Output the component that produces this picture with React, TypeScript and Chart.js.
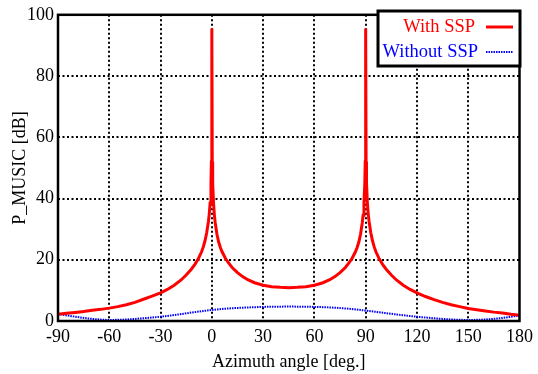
import React, { useEffect, useRef } from "react";
import { Chart, registerables } from "chart.js";

Chart.register(...registerables);

const redAngles = [
  -90, -85, -80, -75, -70, -65, -60, -55, -50, -45, -40, -35, -30, -26, -22, -18, -15, -12, -10, -8, -6, -5, -4, -3, -2, -1.5, -1, -0.5, -0.25, 0,
  0.25, 0.5, 1, 1.5, 2, 3, 4, 5, 6, 8, 10, 12, 15, 18, 21, 25, 30, 35, 40, 45,
  50, 55, 60, 65, 69, 72, 75, 78, 80, 82, 84, 85, 86, 87, 88, 88.5, 89, 89.5, 89.75, 90,
  90.25, 90.5, 91, 91.5, 92, 93, 94, 95, 96, 98, 100, 102, 105, 108, 112, 116, 120, 125, 130, 135, 140, 145, 150, 155, 160, 165, 170, 175, 180,
];
const redValues = [
  2.2, 2.5, 2.8, 3.1, 3.5, 3.8, 4.2, 4.7, 5.3, 6.1, 7.1, 8.1, 9.2, 10.3, 11.7, 13.4, 15.0, 16.9, 18.4, 20.2, 22.6, 24.2, 26.2, 28.8, 32.5, 35, 38.5, 45, 52, 95.5,
  52, 45, 38.5, 34.5, 32, 28.3, 25.8, 24, 22.6, 20.4, 18.8, 17.4, 15.8, 14.5, 13.5, 12.5, 11.7, 11.2, 11.0, 10.9,
  11.0, 11.2, 11.7, 12.5, 13.5, 14.5, 15.8, 17.4, 18.8, 20.4, 22.6, 24, 25.8, 28.3, 32, 34.5, 38.5, 45, 52, 95.5,
  52, 45, 38.5, 35, 32.5, 28.8, 26.2, 24.2, 22.6, 20.2, 18.4, 16.9, 15.0, 13.4, 11.7, 10.3, 9.2, 8.0, 7.0, 6.1, 5.3, 4.7, 4.1, 3.7, 3.3, 2.9, 2.6, 2.2, 1.9,
];

const blueAngles = [-90, -80, -70, -60, -50, -40, -30, -20, -10, 0, 10, 20, 30, 45, 60, 70, 80, 90, 100, 110, 120, 130, 140, 150, 160, 170, 180];
const blueValues = [2.3, 1.4, 0.7, 0.35, 0.5, 0.9, 1.4, 2.1, 2.9, 3.6, 4.1, 4.4, 4.6, 4.7, 4.6, 4.4, 4.0, 3.4, 2.7, 2.0, 1.4, 0.9, 0.5, 0.35, 0.5, 1.0, 1.8];

const xTicks = [-90, -60, -30, 0, 30, 60, 90, 120, 150, 180];
const yTicks = [0, 20, 40, 60, 80, 100];
const seriesNames = ["With SSP", "Without SSP"];
const FONT = "'Liberation Serif', 'Times New Roman', serif";

export default function App() {
  const ref = useRef<HTMLCanvasElement | null>(null);
  useEffect(() => {
    const canvas = ref.current;
    if (!canvas) return;
    const boxPlugin = {
      id: "boxAndLegend",
      afterDraw(chart: any) {
        const { ctx, chartArea: a } = chart;
        ctx.save();
        ctx.strokeStyle = "#000";
        ctx.lineWidth = 2.5;
        ctx.setLineDash([]);
        ctx.strokeRect(a.left, a.top, a.right - a.left, a.bottom - a.top);
        // legend
        const lx = 378, ly = 11, lw = 142, lh = 55;
        ctx.fillStyle = "#fff";
        ctx.fillRect(lx, ly, lw, lh);
        ctx.lineWidth = 3;
        ctx.strokeRect(lx, ly, lw, lh);
        ctx.font = `18.5px ${FONT}`;
        ctx.textAlign = "right";
        ctx.textBaseline = "middle";
        ctx.fillStyle = "#ff0000";
        ctx.fillText(seriesNames[0], 475, 27);
        ctx.fillStyle = "#0000ff";
        ctx.fillText(seriesNames[1], 478, 52);
        ctx.strokeStyle = "#ff0000";
        ctx.lineWidth = 3;
        ctx.beginPath();
        ctx.moveTo(486, 27);
        ctx.lineTo(513, 27);
        ctx.stroke();
        ctx.strokeStyle = "#0000ff";
        ctx.lineWidth = 2;
        ctx.setLineDash([1.5, 1]);
        ctx.beginPath();
        ctx.moveTo(486, 52);
        ctx.lineTo(513, 52);
        ctx.stroke();
        ctx.restore();
      },
    };
    const chart = new Chart(canvas, {
      type: "line",
      data: {
        datasets: [
          {
            label: seriesNames[0],
            data: redAngles.map((x, i) => ({ x, y: redValues[i] })),
            borderColor: "#ff0000",
            borderWidth: 3,
            pointRadius: 0,
            tension: 0,
            fill: false,
          },
          {
            label: seriesNames[1],
            data: blueAngles.map((x, i) => ({ x, y: blueValues[i] })),
            borderColor: "#0000ff",
            borderWidth: 2,
            borderDash: [1.5, 1],
            pointRadius: 0,
            cubicInterpolationMode: "monotone",
            fill: false,
          },
        ],
      },
      options: {
        responsive: false,
        animation: false,
        events: [],
        layout: { padding: { top: 11, right: 17, left: 0, bottom: 0 } },
        plugins: { legend: { display: false }, tooltip: { enabled: false } },
        scales: {
          x: {
            type: "linear",
            min: -90,
            max: 180,
            afterBuildTicks: (s: any) => {
              s.ticks = xTicks.map((v) => ({ value: v }));
            },
            afterFit: (s: any) => {
              s.height = 53;
            },
            border: { display: false, dash: [2, 2.5] },
            grid: {
              color: (c: any) => (c.tick && (c.tick.value === -90 || c.tick.value === 180) ? "rgba(0,0,0,0)" : "#000"),
              lineWidth: 2,
              drawTicks: false,
            },
            ticks: {
              color: "#000",
              font: { family: FONT, size: 18 },
              padding: 5,
              maxRotation: 0,
              autoSkip: false,
            },
            title: {
              display: true,
              text: "Azimuth angle [deg.]",
              color: "#000",
              font: { family: FONT, size: 18 },
              padding: { top: 0, bottom: 1 },
            },
          },
          y: {
            type: "linear",
            min: 0,
            max: 100,
            afterBuildTicks: (s: any) => {
              s.ticks = yTicks.map((v) => ({ value: v }));
            },
            afterFit: (s: any) => {
              s.width = 58;
            },
            border: { display: false, dash: [2, 2.5] },
            grid: {
              color: (c: any) => (c.tick && (c.tick.value === 0 || c.tick.value === 100) ? "rgba(0,0,0,0)" : "#000"),
              lineWidth: 2,
              drawTicks: false,
            },
            ticks: {
              color: "#000",
              font: { family: FONT, size: 18 },
              padding: 4,
            },
            title: {
              display: true,
              text: "P_MUSIC [dB]",
              color: "#000",
              font: { family: FONT, size: 18 },
              padding: { top: 9, bottom: 0 },
            },
          },
        },
      },
      plugins: [boxPlugin],
    } as any);
    return () => chart.destroy();
  }, []);
  return (
    <div style={{ position: "fixed", left: 0, top: 0, width: 538, height: 374, background: "#fff" }}>
      <canvas ref={ref} width={538} height={374} style={{ width: 538, height: 374 }} />
    </div>
  );
}
